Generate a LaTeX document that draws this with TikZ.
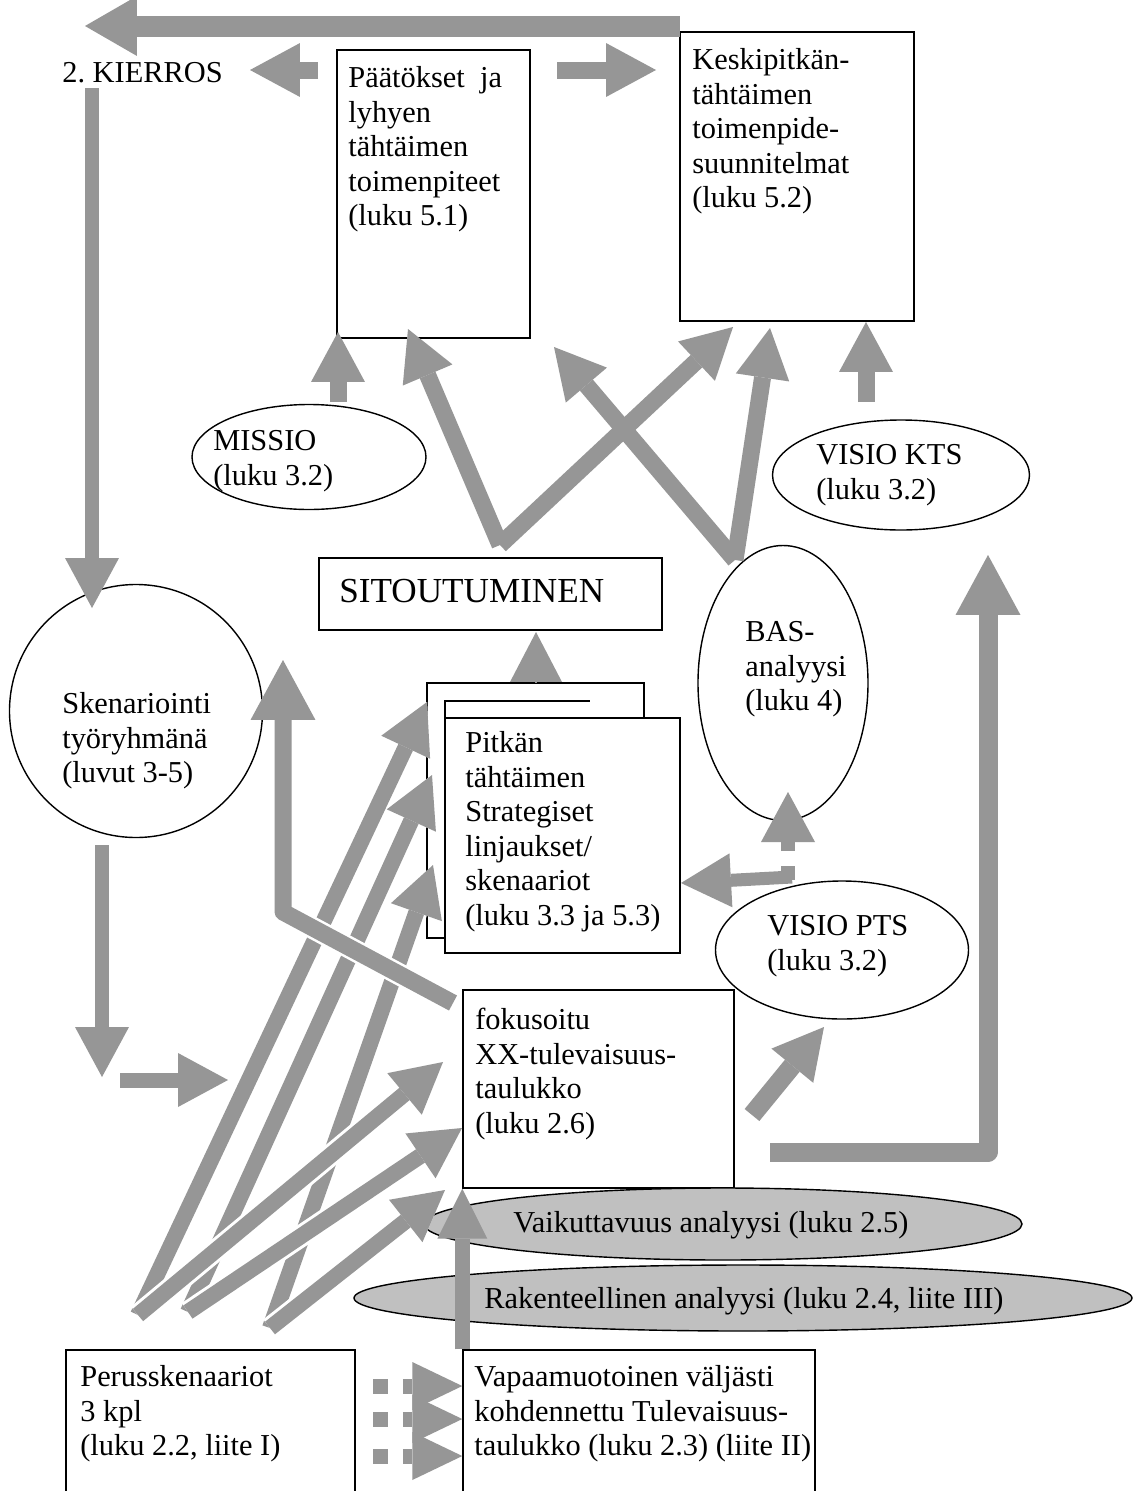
\documentclass[tikz,border=0pt]{standalone}
\usepackage{fontspec}
\setmainfont{Liberation Serif}
\usetikzlibrary{arrows.meta,fit,shapes.geometric}
\definecolor{arrowgray}{RGB}{150,150,150}
\definecolor{ovalgray}{RGB}{192,192,192}
\tikzset{
  box/.style={draw, line width=0.8pt, fill=white, inner sep=0pt},
  oval/.style={ellipse, draw, line width=0.8pt, fill=white, inner sep=0pt},
  ovalsize/.style 2 args={minimum width=#1*0.02cm, minimum height=#2*0.02cm},
  txt/.style={anchor=north west, inner sep=0pt, align=left, font=\fontsize{17.3}{19.7}\selectfont, execute at begin node=\strut},
  linetxt/.style={anchor=base west, inner sep=0pt, font=\fontsize{17.3}{19.7}\selectfont},
  garrow/.style={draw=arrowgray, line width=0.34cm, -{Triangle[length=1cm,width=1.08cm,line width=0pt]}},
  bigarrow/.style={garrow, -{Triangle[length=1.2cm,width=1.3cm,line width=0pt]}},
  halo/.style={preaction={draw=white, line width=0.44cm}},
}

\begin{document}
\begin{tikzpicture}[x=0.02cm, y=-0.02cm]
	%%%%% START %%%%%
	\useasboundingbox[fill=white] (0,0) rectangle (1139,1491);
	
	% boxes
	\node[box, fit={(337,50) (530,338)}] (short) {};
	\node[box, fit={(680,32) (914,321)}] (mid) {};
	\node[box, fit={(319,558) (662,630)}] (commit) {};
	\node[box, fit={(427,683) (644,938)}] (longback) {};
	\draw[line width=0.8pt] (445,718) -- (445,701) -- (590,701);
	\node[box, fit={(445,718) (680,953)}] (long) {};
	\node[box, fit={(463,990) (734,1188)}] (focus) {};
	\node[box, fit={(66,1350) (355,1500)}] (basic) {};
	\node[box, fit={(463,1350) (815,1500)}] (free) {};
	
	% ovals
	\node[oval, ovalsize={234}{105}] (missio) at (309,457) {};
	\node[oval, ovalsize={257}{110}] (ktsvision) at (901,475) {};
	\node[oval, ovalsize={253}{253}] (scen) at (136,711) {};
	\node[oval, ovalsize={170}{275}] (bas) at (783,683) {};
	\node[oval, ovalsize={253}{138}] (ptsvision) at (842,950) {};
	\node[oval, fill=ovalgray, ovalsize={598}{72}] (impact) at (723,1224) {};
	\node[oval, fill=ovalgray, ovalsize={778}{66}] (struct) at (743,1298) {};
	
	% texts
	\node[linetxt] (round) at (62,82) {2.\ KIERROS};
	\node[txt] (shorttxt) at (348,66) {Päätökset~~ja\\lyhyen\\tähtäimen\\toimenpiteet\\(luku 5.1)};
	\node[txt] (midtxt) at (692,48) {Keskipitkän-\\tähtäimen\\toimenpide-\\suunnitelmat\\(luku 5.2)};
	\node[linetxt, font=\fontsize{20}{23}\selectfont] (committxt) at (339,602) {SITOUTUMINEN};
	\node[txt] (longtxt) at (465,731) {Pitkän\\tähtäimen\\Strategiset\\linjaukset/\\skenaariot\\(luku 3.3 ja 5.3)};
	\node[txt] (missiotxt) at (213,430) {MISSIO\\(luku 3.2)};
	\node[txt] (ktstxt) at (816,444) {VISIO KTS\\(luku 3.2)};
	\node[txt] (scentxt) at (62,692) {Skenariointi\\työryhmänä\\(luvut 3-5)};
	\node[txt] (bastxt) at (745,621) {BAS-\\analyysi\\(luku 4)};
	\node[txt] (ptstxt) at (767,915) {VISIO PTS\\(luku 3.2)};
	\node[txt] (focustxt) at (475,1008) {fokusoitu\\XX-tulevaisuus-\\taulukko\\(luku 2.6)};
	\node[linetxt] (impacttxt) at (513,1232) {Vaikuttavuus analyysi (luku 2.5)};
	\node[linetxt] (structtxt) at (484,1308) {Rakenteellinen analyysi (luku 2.4, liite III)};
	\node[txt] (basictxt) at (80,1365) {Perusskenaariot\\3 kpl\\(luku 2.2, liite I)};
	\node[txt] (freetxt) at (474,1365) {Vapaamuotoinen väljästi\\kohdennettu Tulevaisuus-\\taulukko (luku 2.3) (liite II)};
	
	% arrows at the top
	\coordinate (topR) at (680,26);
	\coordinate (topL) at (85,26);
	\draw[garrow, line width=0.42cm, -{Triangle[length=1.04cm,width=1.2cm,line width=0pt]}] (topR) -- (topL);
	\coordinate (kR) at (318,70);
	\coordinate (kL) at (250,70);
	\draw[garrow] (kR) -- (kL);
	\coordinate (mL) at (557,70);
	\coordinate (mR) at (656,70);
	\draw[garrow] (mL) -- (mR);
	\coordinate (downA) at (92,88);
	\coordinate (downB) at (92,608);
	\draw[garrow, line width=0.3cm] (downA) -- (downB);
	
	\coordinate (missioUp) at (338,402);
	\coordinate (missioTip) at (338,332);
	\draw[garrow] (missioUp) -- (missioTip);
	\coordinate (ktsUp) at (866,402);
	\coordinate (ktsTip) at (866,322);
	\draw[garrow] (ktsUp) -- (ktsTip);
	
	% V arrows
	\coordinate (v1) at (500,545);
	\coordinate (v1a) at (408,329);
	\coordinate (v1b) at (733,327);
	\coordinate (v2) at (735,560);
	\coordinate (v2a) at (554,347);
	\coordinate (v2b) at (770,328);
	\draw[garrow] (v1) -- (v1a);
	\draw[garrow] (v1) -- (v1b);
	\draw[garrow] (v2) -- (v2a);
	\draw[garrow] (v2) -- (v2b);
	
	% commitment
	\coordinate (commitTip) at (536,632);
	\draw[draw=arrowgray, line width=1pt, -{Triangle[length=1cm,width=1.04cm,line width=0pt]}] (longback.north -| commitTip) -- (commitTip);
	
	% vision pts
	\coordinate (ptsA) at (788,851);
	\coordinate (ptsB) at (788,792);
	\draw[garrow, line width=0.28cm] (ptsA) -- (ptsB);
	\fill[arrowgray] (781,866) rectangle (795,880);
	\coordinate (ptsC) at (792,877);
	\coordinate (ptsD) at (681,883);
	\draw[garrow, line width=0.26cm] (ptsC) -- (ptsD);
	
	% fan from the basic scenarios
	\coordinate (f1) at (138,1315);
	\coordinate (f2) at (188,1312);
	\coordinate (f3) at (270,1328);
	\draw[garrow, halo, line width=0.32cm] (f1) -- (427,702);
	\draw[garrow, halo, line width=0.32cm] (f2) -- (432,775);
	\draw[garrow, halo, line width=0.32cm] (f3) -- (433,865);
	\draw[garrow, halo, line width=0.32cm] (f1) -- (443,1062);
	\draw[garrow, halo, line width=0.32cm] (f2) -- (462,1128);
	\draw[garrow, halo, line width=0.32cm] (f3) -- (445,1190);
	
	\coordinate (lA) at (453,1003);
	\coordinate (lB) at (283,912);
	\coordinate (lC) at (283,660);
	\draw[bigarrow, halo, line join=round] (lA) -- (lB) -- (lC);
	
	\coordinate (scenA) at (102,845);
	\coordinate (scenB) at (102,1077);
	\draw[garrow, line width=0.3cm] (scenA) -- (scenB);
	\coordinate (rA) at (120,1080);
	\coordinate (rB) at (228,1080);
	\draw[garrow, line width=0.3cm] (rA) -- (rB);
	
	\coordinate (focA) at (752,1115);
	\coordinate (focB) at (824,1027);
	\draw[garrow, line width=0.38cm] (focA) -- (focB);
	\coordinate (kA) at (770,1152);
	\coordinate (kB) at (988,1152);
	\coordinate (kC) at (988,555);
	\draw[bigarrow, line width=0.38cm, line join=round] (kA) -- (kB) -- (kC);
	
	\draw[garrow, line width=0.3cm, -{Triangle[length=1cm,width=1cm,line width=0pt]}] (free.north west) -- (focus.south west);
	
	\foreach \y in {1386,1419,1456}
		\draw[garrow, line width=0.3cm, dash pattern=on 0.3cm off 0.3cm, -{Triangle[length=1cm,width=0.96cm,line width=0pt]}] (373,\y) -- (free.west |- 0,\y);
	
	%%%%% END %%%%%
\end{tikzpicture}
\end{document}
